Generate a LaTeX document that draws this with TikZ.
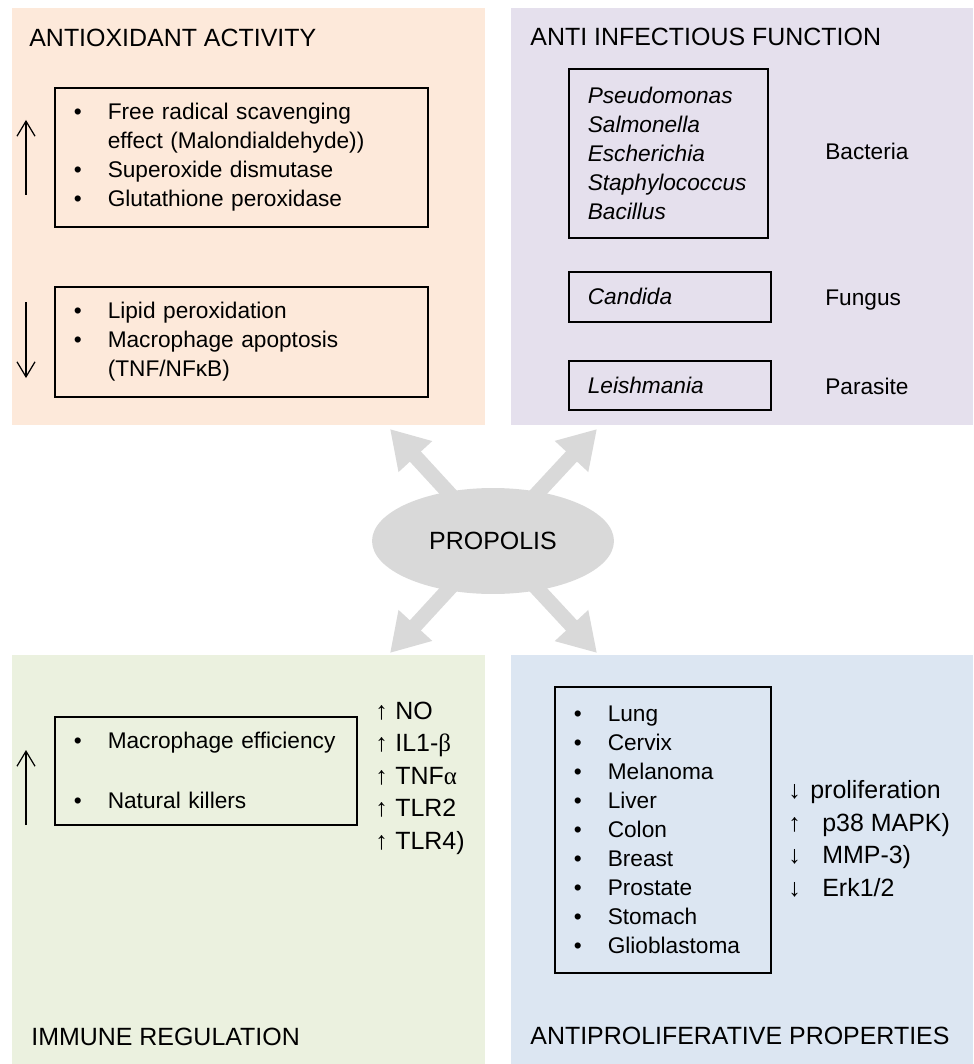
\documentclass[tikz,border=0pt]{standalone}
\usepackage{fontspec}
\setmainfont{Liberation Sans}
\newfontfamily\greekfont{Liberation Serif}
\usepackage{xcolor}
\usepackage{tikz}
\usetikzlibrary{shapes.geometric,arrows.meta,backgrounds}
\definecolor{oxipeach}{RGB}{253,233,218}
\definecolor{infectlilac}{RGB}{229,224,237}
\definecolor{immunegreen}{RGB}{235,241,223}
\definecolor{prolifblue}{RGB}{220,230,242}
\definecolor{propgray}{RGB}{217,217,217}
\newcommand{\bodyfont}{\fontsize{12.9}{16.5}\selectfont}
\newcommand{\bigfont}{\fontsize{14.2}{18.5}\selectfont}
\newcommand{\bul}{\makebox[0.68cm][l]{\textbullet}}
\newcommand{\ind}{\hspace*{0.68cm}}
\newcommand{\upm}{\makebox[0.4cm][l]{↑}}
\tikzset{
  listbox/.style={draw, line width=0.9pt, anchor=north west, inner xsep=0.38cm,
    inner ysep=0pt, align=left, font=\bodyfont},
  paneltitle/.style={anchor=base west, inner sep=0pt, font=\bigfont},
  sidelabel/.style={anchor=base west, inner sep=0pt, font=\bodyfont},
  marklist/.style={anchor=west, inner sep=0pt, align=left, font=\bigfont},
  trend/.style={line width=0.7pt, -{Straight Barb[length=0.3cm,width=0.36cm]}},
  core/.style={ellipse, fill=propgray, minimum width=4.84cm, minimum height=2.12cm,
    inner sep=0pt, font=\bigfont},
  burst/.style={draw=propgray, line width=0.3cm, -{Triangle[length=0.75cm,width=0.86cm]}}
}

\begin{document}
\begin{tikzpicture}[x=0.02cm,y=-0.02cm]
\useasboundingbox (0,0) rectangle (973,1064);
% panels
\fill[oxipeach] (12,8) rectangle (485,425);
\fill[infectlilac] (511,8) rectangle (973,425);
\fill[immunegreen] (12,655) rectangle (485,1064);
\fill[prolifblue] (511,655) rectangle (973,1064);

% propolis in the middle
\node[core] (propolis) at (493,541) {PROPOLIS};
\coordinate (tipNW) at (390,429);
\coordinate (tipNE) at (597,429);
\coordinate (tipSW) at (390,653);
\coordinate (tipSE) at (597,653);
\begin{scope}[on background layer]
  \foreach \t in {tipNW,tipNE,tipSW,tipSE}
    \draw[burst] (propolis.center) -- (\t);
\end{scope}

% antioxidant activity
\node[paneltitle] (oxtitle) at (29,47) {ANTIOXIDANT ACTIVITY};
\node[listbox, text width=6.70cm, minimum height=2.78cm] (oxup) at (54,87)
  {\bul Free radical scavenging\\ \ind effect (Malondialdehyde))\\
   \bul Superoxide dismutase\\ \bul Glutathione peroxidase};
\node[listbox, text width=6.70cm, minimum height=2.2cm] (oxdown) at (54,286)
  {\bul Lipid peroxidation\\ \bul Macrophage apoptosis\\ \ind (TNF/NFκB)};
\coordinate (oxrise0) at (26,195);
\coordinate (oxrise1) at (26,120);
\coordinate (oxfall0) at (26,302);
\coordinate (oxfall1) at (26,378);
\draw[trend] (oxrise0) -- (oxrise1);
\draw[trend] (oxfall0) -- (oxfall1);

% anti infectious function
\node[paneltitle] (inftitle) at (530,46) {ANTI INFECTIOUS FUNCTION};
\node[listbox, text width=3.22cm, minimum height=3.38cm, font=\bodyfont\itshape] (bact) at (568,68)
  {Pseudomonas\\ Salmonella\\ Escherichia\\ Staphylococcus\\ Bacillus};
\node[listbox, text width=3.28cm, minimum height=1.0cm, font=\bodyfont\itshape] (cand) at (568,271) {Candida};
\node[listbox, text width=3.28cm, minimum height=0.98cm, font=\bodyfont\itshape] (leish) at (568,360) {Leishmania};
\node[sidelabel] (bactlab) at (825,160) {Bacteria};
\node[sidelabel] (funglab) at (825,305) {Fungus};
\node[sidelabel] (paralab) at (825,394) {Parasite};

% immune regulation
\node[listbox, text width=5.28cm, minimum height=2.16cm] (immbox) at (54,716)
  {\bul Macrophage efficiency\\[0.62cm] \bul Natural killers};
\node[marklist] (immmark) at (375,778)
  {\upm NO\\ \upm IL1-{\greekfont β}\\ \upm TNF{\greekfont α}\\ \upm TLR2\\ \upm TLR4)};
\coordinate (immrise0) at (26,825);
\coordinate (immrise1) at (26,750);
\draw[trend] (immrise0) -- (immrise1);
\node[paneltitle] (immtitle) at (31,1045) {IMMUNE REGULATION};

% antiproliferative properties
\node[listbox, text width=3.56cm, minimum height=5.72cm] (tumbox) at (554,686)
  {\bul Lung\\ \bul Cervix\\ \bul Melanoma\\ \bul Liver\\ \bul Colon\\
   \bul Breast\\ \bul Prostate\\ \bul Stomach\\ \bul Glioblastoma};
\node[marklist] (tummark) at (788,839)
  {\makebox[0.44cm][l]{↓}proliferation\\ \makebox[0.68cm][l]{↑}p38 MAPK)\\
   \makebox[0.68cm][l]{↓}MMP-3)\\ \makebox[0.68cm][l]{↓}Erk1/2};
\node[paneltitle] (tumtitle) at (530,1044) {ANTIPROLIFERATIVE PROPERTIES};
\end{tikzpicture}
\end{document}
